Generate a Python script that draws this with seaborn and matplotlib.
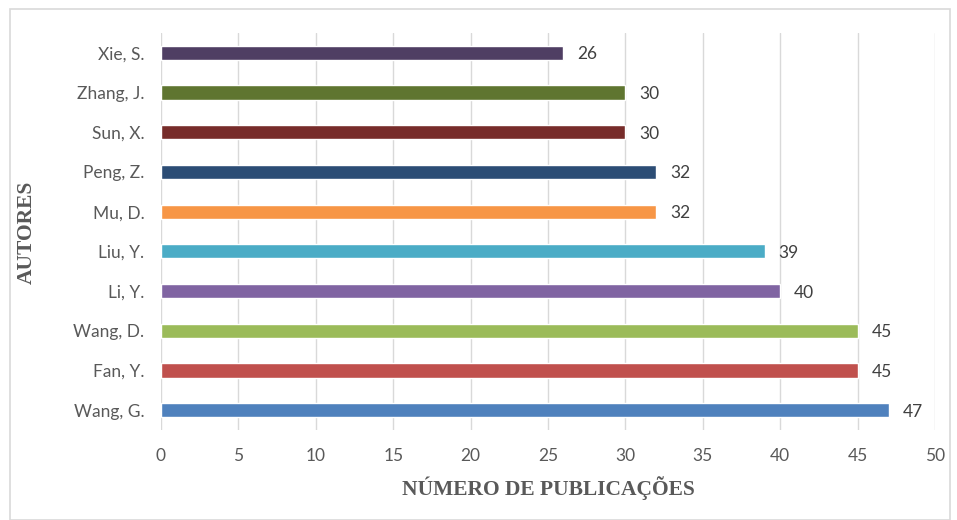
import matplotlib
matplotlib.use("Agg")
import matplotlib.pyplot as plt
import seaborn as sns
import pandas as pd
from matplotlib.patches import Rectangle

authors = ["Xie, S.", "Zhang, J.", "Sun, X.", "Peng, Z.", "Mu, D.",
           "Liu, Y.", "Li, Y.", "Wang, D.", "Fan, Y.", "Wang, G."]
counts = [26, 30, 30, 32, 32, 39, 40, 45, 45, 47]
colors = ["#4F3E63", "#5F7530", "#772C2A", "#2C4D75", "#F79646",
          "#4BACC6", "#8064A2", "#9BBB59", "#C0504D", "#4F81BD"]
xticks = [0, 5, 10, 15, 20, 25, 30, 35, 40, 45, 50]

df = pd.DataFrame({"autor": authors, "n": counts})

sns.set_theme(style="white")
plt.rcParams["font.family"] = ["Lato", "DejaVu Sans"]

fig = plt.figure(figsize=(9.57, 5.2), dpi=100)
ax = fig.add_axes([161/957, 1-430/520, (935-161)/957, (430-33)/520])

sns.barplot(data=df, y="autor", x="n", hue="autor", palette=colors,
            order=authors, hue_order=authors, legend=False, width=0.36,
            orient="h", ax=ax, saturation=1)

ax.set_xlim(0, 50)
ax.set_ylim(9.5, -0.5)
ax.set_xticks(xticks)
ax.set_xticklabels([str(t) for t in xticks])
ax.grid(axis="x", color="#D9D9D9", linewidth=1)
ax.set_axisbelow(True)
for s in ax.spines.values():
    s.set_visible(False)
ax.tick_params(axis="both", length=0, labelsize=12.5, labelcolor="#595959")
ax.tick_params(axis="x", pad=13)
ax.tick_params(axis="y", pad=12)

for i, v in enumerate(counts):
    ax.text(v + 0.9, i, str(v), va="center_baseline", ha="left", fontsize=12.5, color="#404040")

ax.set_xlabel("NÚMERO DE PUBLICAÇÕES", fontfamily="Liberation Serif",
              fontweight="bold", fontsize=15.5, color="#595959", labelpad=9)
ax.set_ylabel("")
fig.text(27/957, 1-232/520, "AUTORES", rotation=90, ha="center", va="center",
         fontfamily="Liberation Serif", fontweight="bold", fontsize=15.5, color="#595959")

fig.patches.append(Rectangle((10/957, 0), 940/957, 1-9/520, transform=fig.transFigure,
                             fill=False, edgecolor="#D9D9D9", linewidth=1.2))

fig.savefig("out.png", dpi=100, facecolor="white")
